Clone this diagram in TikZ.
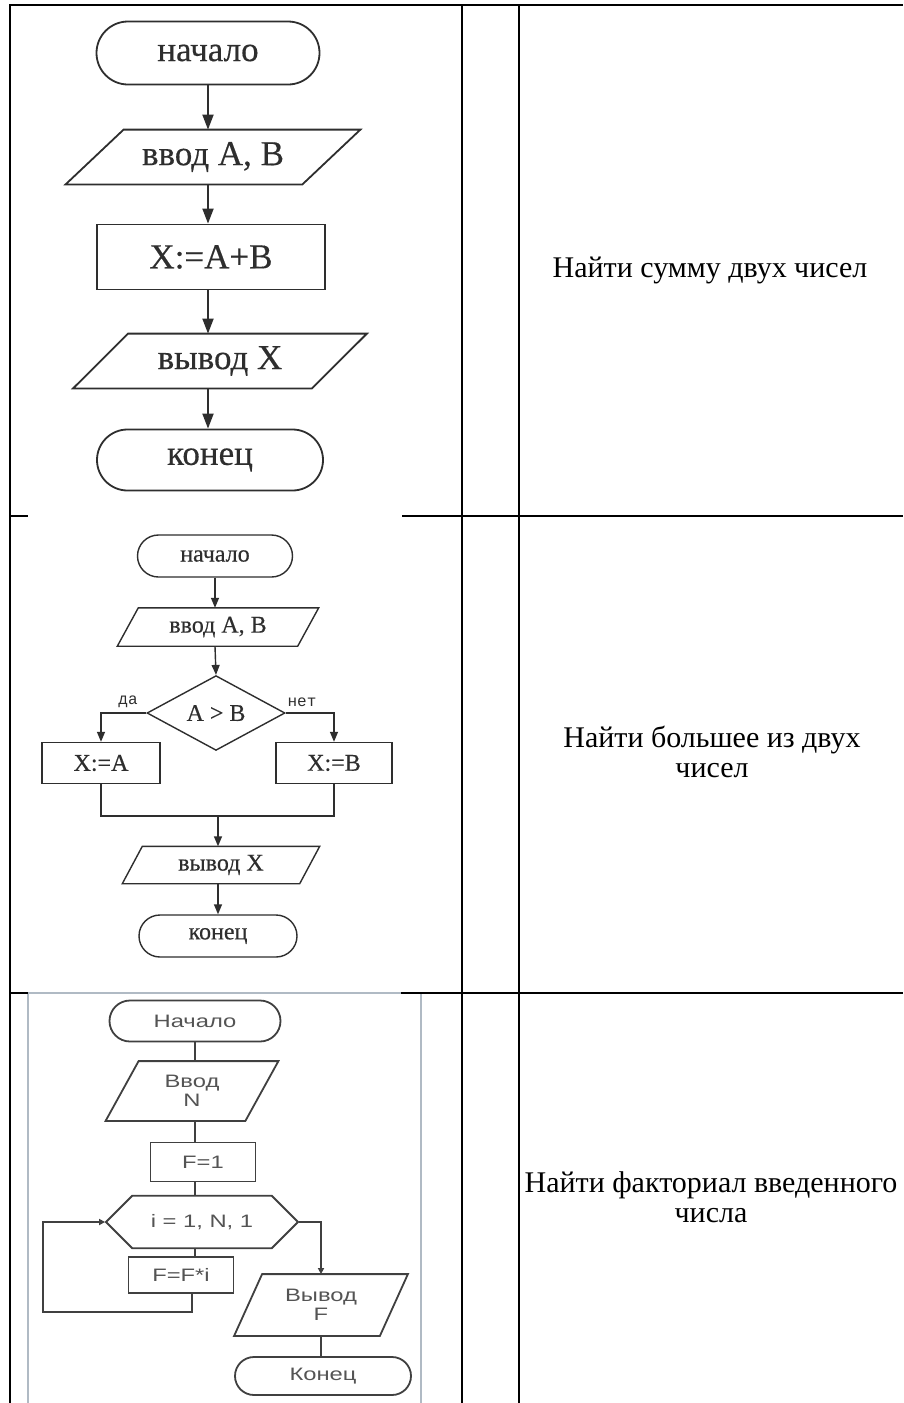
\documentclass[tikz,border=0pt]{standalone}
\usepackage{fontspec}
\setmainfont{Liberation Serif}
\newfontfamily\chartserif[FakeBold=0.4]{Liberation Serif}
\newfontfamily\chartsans[FakeStretch=1.32]{Liberation Sans}
\newfontfamily\chartmono{Liberation Mono}
\usetikzlibrary{shapes.geometric,shapes.misc,arrows.meta}

\newlength{\du}
\setlength{\du}{1pt}

\definecolor{dialinecolor}{rgb}{0.000000, 0.000000, 0.000000}
\definecolor{shapecolor}{rgb}{0.180000, 0.180000, 0.180000}
\definecolor{greyline}{rgb}{0.250000, 0.250000, 0.250000}
\definecolor{greytext}{rgb}{0.330000, 0.330000, 0.330000}
\definecolor{framecolor}{rgb}{0.690000, 0.730000, 0.770000}

\tikzset{
  tableline/.style={line width=2.2\du, dialinecolor},
  termbox/.style={draw, rounded rectangle, inner sep=0pt},
  procbox/.style={draw, rectangle, inner sep=0pt},
  iobox/.style={rectangle, inner sep=0pt, append after command={\pgfextra{\draw
    ([xshift=#1]\tikzlastnode.north west)--([xshift=#1]\tikzlastnode.north east)--
    ([xshift=-#1]\tikzlastnode.south east)--([xshift=-#1]\tikzlastnode.south west)--cycle;}}},
  condbox/.style={draw, diamond, inner sep=0pt},
  loopbox/.style={draw, chamfered rectangle, chamfered rectangle xsep=26\du, chamfered rectangle ysep=18.5\du, inner sep=0pt},
  chartA/.style={shapecolor, line width=1.8\du, font=\chartserif\fontsize{35}{40}\selectfont},
  chartB/.style={shapecolor, line width=1.4\du, font=\chartserif\fontsize{24}{28}\selectfont},
  chartC/.style={greyline, line width=1.8\du, text=greytext, font=\chartsans\fontsize{18}{19}\selectfont},
  arrA/.style={-{Stealth[length=15pt,width=11pt,inset=0pt]}},
  arrB/.style={-{Stealth[length=10pt,width=8pt,inset=0pt]}},
  arrC/.style={-{Stealth[length=6pt,width=6pt,inset=0pt]}},
  branchlabel/.style={font=\chartmono\fontsize{16}{18}\selectfont},
  taskname/.style={align=center, text=dialinecolor, font=\fontsize{30}{30}\selectfont},
}

\begin{document}
\begin{tikzpicture}
\pgftransformxscale{1.000000}
\pgftransformyscale{-1.000000}
\useasboundingbox[fill=white] (0\du,0\du) rectangle (903\du,1403\du);

% picture frame of the third row
\draw[framecolor, line width=1.5\du, fill=white] (28\du,993\du) rectangle (421\du,1410\du);

% table
\draw[tableline] (10\du,5\du)--(903\du,5\du);
\draw[tableline] (10\du,4\du)--(10\du,1403\du);
\draw[tableline] (462\du,4\du)--(462\du,1403\du);
\draw[tableline] (519\du,4\du)--(519\du,1403\du);
\draw[tableline] (10\du,516\du)--(28\du,516\du);
\draw[tableline] (402\du,516\du)--(903\du,516\du);
\draw[tableline] (10\du,993\du)--(28\du,993\du);
\draw[tableline] (401\du,993\du)--(903\du,993\du);

% sum of two numbers
\begin{scope}[chartA]
\node[termbox, minimum width=223\du, minimum height=63\du] (start1) at (208\du,53\du) {начало};
\node[iobox=29\du, minimum width=235\du, minimum height=53\du] (input1) at (213\du,157\du) {ввод A, B};
\node[procbox, minimum width=228\du, minimum height=65\du] (sum1) at (211\du,257\du) {X:=A+B};
\node[iobox=27.5\du, minimum width=237\du, minimum height=53\du] (output1) at (220\du,361\du) {вывод X};
\node[termbox, minimum width=226\du, minimum height=61\du] (stop1) at (210\du,460\du) {конец};
\draw[arrA] (start1.south)--(start1.south |- input1.north);
\draw[arrA] (start1.south |- input1.south)--(start1.south |- sum1.north);
\draw[arrA] (start1.south |- sum1.south)--(start1.south |- output1.north);
\draw[arrA] (start1.south |- output1.south)--(start1.south |- stop1.north);
\end{scope}

% larger of two numbers
\begin{scope}[chartB]
\node[termbox, minimum width=155\du, minimum height=42\du] (start2) at (215\du,556\du) {начало};
\node[iobox=10.5\du, minimum width=179\du, minimum height=37\du] (input2) at (218\du,627\du) {ввод A, B};
\node[condbox, minimum width=138\du, minimum height=73\du] (test2) at (216\du,713\du) {A > B};
\node[procbox, minimum width=118\du, minimum height=41\du] (takeA2) at (101\du,763\du) {X:=A};
\node[procbox, minimum width=116\du, minimum height=41\du] (takeB2) at (334\du,763\du) {X:=B};
\coordinate (merge2) at (218\du,816\du);
\node[iobox=10\du, minimum width=176\du, minimum height=36\du] (output2) at (221\du,865\du) {вывод X};
\node[termbox, minimum width=158\du, minimum height=42\du] (stop2) at (218\du,936\du) {конец};
\node[branchlabel] (yes2) at (128\du,702\du) {да};
\node[branchlabel] (no2) at (302\du,702\du) {нет};
\draw[arrB] (start2.south)--(start2.south |- input2.north);
\draw[arrB] (start2.south |- input2.south)--(test2.north);
\draw[arrB] (test2.west) -| (takeA2.north);
\draw[arrB] (test2.east) -| (takeB2.north);
\draw (takeA2.south) |- (merge2);
\draw (takeB2.south) |- (merge2);
\draw[arrB] (merge2)--(merge2 |- output2.north);
\draw[arrB] (merge2 |- output2.south)--(merge2 |- stop2.north);
\end{scope}

% factorial
\begin{scope}[chartC]
\node[termbox, minimum width=171\du, minimum height=41\du] (start3) at (195\du,1021\du) {Начало};
\node[iobox=16.5\du, minimum width=138\du, minimum height=58\du, align=center] (input3) at (192\du,1091\du) {Ввод\\N};
\node[procbox, minimum width=105\du, minimum height=39\du] (init3) at (203\du,1162\du) {F=1};
\node[loopbox, minimum width=192\du, minimum height=37\du] (loop3) at (202\du,1222\du) {i = 1, N, 1};
\node[procbox, minimum width=105\du, minimum height=36\du] (mult3) at (181\du,1275\du) {F=F*i};
\coordinate (back3) at (43\du,1312\du);
\node[iobox=14\du, minimum width=144\du, minimum height=60\du, align=center] (output3) at (321\du,1305\du) {Вывод\\F};
\node[termbox, minimum width=176\du, minimum height=38\du] (stop3) at (323\du,1376\du) {Конец};
\draw (start3.south)--(start3.south |- input3.north);
\draw (start3.south |- input3.south)--(start3.south |- init3.north);
\draw (start3.south |- init3.south)--(start3.south |- loop3.north);
\draw (start3.south |- loop3.south)--(start3.south |- mult3.north);
\draw[arrC] ([xshift=11\du]mult3.south) |- (back3) |- (loop3.west);
\draw[arrC] (loop3.east) -| (output3.north);
\draw (output3.south)--(output3.south |- stop3.north);
\end{scope}

% task column
\node[taskname] (task1) at (710\du,270\du) {Найти сумму двух чисел};
\node[taskname] (task2) at (712\du,752\du) {Найти большее из двух\\чисел};
\node[taskname] (task3) at (711\du,1197\du) {Найти факториал введенного\\числа};
\end{tikzpicture}
\end{document}
